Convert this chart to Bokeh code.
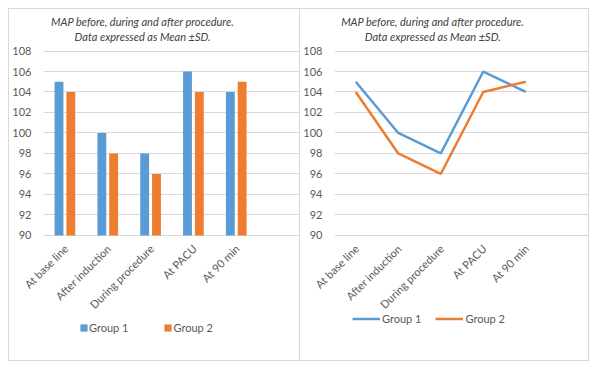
import math
from bokeh.plotting import figure
from bokeh.models import FactorRange, Range1d, FixedTicker, Legend, LegendItem, ColumnDataSource, Spacer
from bokeh.layouts import row, column
from bokeh.transform import dodge
from bokeh.core.properties import value
from bokeh.embed import file_html
from bokeh.resources import INLINE

categories = ["At base line", "After induction", "During procedure", "At PACU", "At 90 min"]
group1 = [105, 100, 98, 106, 104]
group2 = [104, 98, 96, 104, 105]
y_ticks = [90, 92, 94, 96, 98, 100, 102, 104, 106, 108]
series_names = ["Group 1", "Group 2"]
title_lines = ["MAP before, during and after procedure.", "Data expressed as Mean ±SD."]

BLUE = "#5B9BD5"
ORANGE = "#ED7D31"
GRID = "#D9D9D9"
TXT = "#595959"
TITLE_C = "#404040"
FONT = "Lato"
BORDER = "1px solid #D9D9D9"

source = ColumnDataSource(data=dict(cat=categories, g1=group1, g2=group2))
title_src = ColumnDataSource(data=dict(text=title_lines, dy=[-30, -15],
                                       xc=[categories[2]] * len(title_lines)))
BASE = y_ticks[0]
TOP = y_ticks[-1]


def make_fig(width, min_left, min_right, styles):
    x_range = FactorRange(factors=categories + [" "])
    p = figure(x_range=x_range, y_range=Range1d(77.6, 108.05), width=width, height=353,
               output_backend="svg", toolbar_location=None,
               min_border_left=min_left, min_border_right=min_right,
               min_border_top=41, min_border_bottom=0, styles=styles)
    p.outline_line_color = None
    p.background_fill_color = "white"
    p.border_fill_color = "white"
    p.xgrid.grid_line_color = None
    p.ygrid.grid_line_color = GRID
    p.ygrid.grid_line_width = 1
    p.xaxis.visible = False
    p.yaxis.ticker = FixedTicker(ticks=y_ticks)
    p.ygrid.ticker = FixedTicker(ticks=y_ticks)
    p.yaxis.axis_line_color = None
    p.yaxis.major_tick_line_color = None
    p.yaxis.minor_tick_line_color = None
    p.yaxis.major_tick_out = 0
    p.yaxis.major_tick_in = 0
    p.yaxis.major_label_standoff = 12
    p.yaxis.major_label_text_font = FONT
    p.yaxis.major_label_text_font_size = "11px"
    p.yaxis.major_label_text_color = TXT
    # category labels, rotated, hanging below the base line (not clipped to the frame)
    p.text(x="cat", y=BASE, text="cat", source=source, angle=math.pi / 4,
           text_align="right", text_baseline="middle", x_offset=1, y_offset=11,
           text_font=value(FONT), text_font_size="11px", text_color=TXT, level="overlay")
    # two-line chart title above the plot area
    p.text(x="xc", y=TOP, text="text", source=title_src, y_offset="dy",
           x_offset=-8, text_align="center", text_baseline="middle",
           text_font=value(FONT), text_font_style="italic", text_font_size="11px",
           text_color=TITLE_C, level="overlay")
    return p


# Bar chart
p1 = make_fig(292, 31, 1, {"border": BORDER})
b1 = p1.vbar(x=dodge("cat", -0.138, range=p1.x_range), top="g1", bottom=BASE, width=0.207,
             source=source, fill_color=BLUE, line_color=None)
b2 = p1.vbar(x=dodge("cat", 0.138, range=p1.x_range), top="g2", bottom=BASE, width=0.207,
             source=source, fill_color=ORANGE, line_color=None)
leg1 = Legend(items=[LegendItem(label=series_names[0], renderers=[b1]),
                     LegendItem(label=series_names[1], renderers=[b2])],
              orientation="horizontal", location=(36, 28), padding=0, margin=0,
              spacing=35, label_standoff=1, glyph_width=9, glyph_height=9,
              label_text_font=FONT, label_text_font_size="11px", label_text_color=TXT,
              border_line_color=None, background_fill_alpha=0)
p1.add_layout(leg1, "center")

# Line chart
p2 = make_fig(289, 31, 0, {"border-top": BORDER, "border-right": BORDER, "border-bottom": BORDER})
l1 = p2.line(x="cat", y="g1", source=source, line_color=BLUE, line_width=2.5)
l2 = p2.line(x="cat", y="g2", source=source, line_color=ORANGE, line_width=2.5)
leg2 = Legend(items=[LegendItem(label=series_names[0], renderers=[l1]),
                     LegendItem(label=series_names[1], renderers=[l2])],
              orientation="horizontal", location=(18, 37), padding=0, margin=0,
              spacing=14, label_standoff=2, glyph_width=28, glyph_height=9,
              label_text_font=FONT, label_text_font_size="11px", label_text_color=TXT,
              border_line_color=None, background_fill_alpha=0)
p2.add_layout(leg2, "center")

layout = column(Spacer(height=8), row(Spacer(width=8), p1, p2))
open("out.html", "w").write(file_html(layout, INLINE))
